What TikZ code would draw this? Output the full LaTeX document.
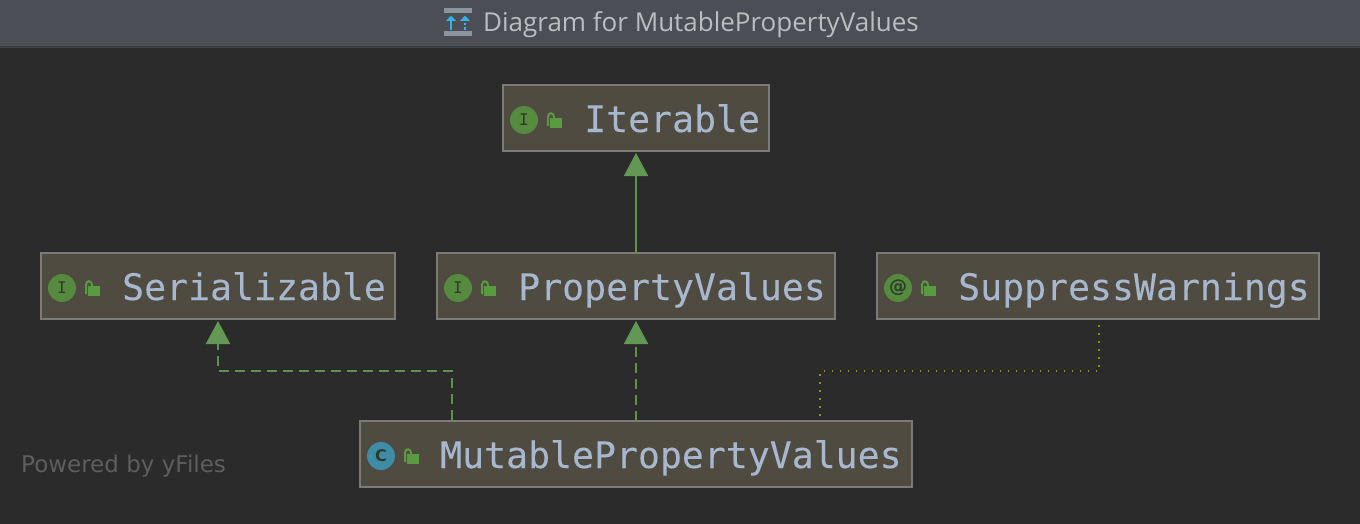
\documentclass[tikz,border=0pt]{standalone}
\usepackage{fontspec}
\setmainfont{Open Sans}
\newfontfamily\monof[FakeBold=0.12]{DejaVu Sans Mono}
\newfontfamily\iconf{DejaVu Sans Mono}
\newfontfamily\labf{DejaVu Sans}
\usetikzlibrary{arrows.meta,positioning,calc}
\definecolor{bgc}{HTML}{2B2B2B}
\definecolor{barc}{HTML}{4B4E55}
\definecolor{barl}{HTML}{3C3F43}
\definecolor{boxf}{HTML}{4F4B41}
\definecolor{boxd}{HTML}{7B7B78}
\definecolor{txtc}{HTML}{A7B7CE}
\definecolor{grn}{HTML}{5A9545}
\definecolor{grnt}{HTML}{629755}
\definecolor{lockc}{HTML}{5A9A40}
\definecolor{icg}{HTML}{568A3E}
\definecolor{icb}{HTML}{3F8CA6}
\definecolor{icd}{HTML}{2E3A2C}
\definecolor{dotc}{HTML}{909000}
\definecolor{ttl}{HTML}{BBBDBF}
\definecolor{pow}{HTML}{5E5E5E}
\definecolor{tib}{HTML}{8C959E}
\definecolor{tia}{HTML}{32B4E6}
\tikzset{
  x=1pt,y=-1pt,
  umlbox/.style={draw=boxd,line width=2pt,fill=boxf,minimum height=66pt,inner sep=0pt,outer sep=0pt},
  umltext/.style={anchor=base west,inner sep=0pt,text=txtc,font=\monof\fontsize{36.5pt}{36.5pt}\selectfont},
  badge/.style={circle,fill=#1,minimum size=28pt,inner sep=0pt,text=icd},
  realize/.style={draw=grn,line width=2pt,dash pattern=on 10pt off 6pt,shorten >=2pt,
    -{Triangle[width=24pt,length=23pt,fill=grnt,color=grnt]}},
  extend/.style={draw=grn,line width=2pt,shorten >=2pt,
    -{Triangle[width=24pt,length=23pt,fill=grnt,color=grnt]}},
  annot/.style={draw=dotc,line width=1.5pt,dash pattern=on 1.5pt off 6.5pt},
  lockbody/.style={fill=lockc,draw=none},
  lockbar/.style={draw=lockc,line width=2pt}
}
\newcommand{\lockat}[2]{%
  \draw[lockbar] (#1+24,#2+6) -- (#1+24,#2-3) .. controls (#1+24,#2-8) and (#1+30,#2-8) .. (#1+30,#2-3) -- (#1+30,#2-1);
  \fill[lockbody] (#1+26,#2-2) rectangle (#1+38,#2+8);
}
\begin{document}
\begin{tikzpicture}
\useasboundingbox (0,0) rectangle (1360,524);
\fill[bgc] (0,0) rectangle (1360,524);
\fill[barc] (0,0) rectangle (1360,46);
\fill[barl] (0,46) rectangle (1360,48);
% title icon
\fill[tib] (444,8) rectangle (472,13);
\fill[tib] (444,31) rectangle (472,36);
\draw[tia,line width=1.6pt] (451,30) -- (451,20);
\fill[tia] (446,21) -- (451,15.5) -- (456,21) -- cycle;
\draw[tia,line width=1.6pt,dash pattern=on 2.5pt off 2pt] (465,30) -- (465,20);
\fill[tia] (460,21) -- (465,15.5) -- (470,21) -- cycle;
\node[anchor=base west,inner sep=0pt,text=ttl,font=\fontsize{26pt}{26pt}\selectfont] (title) at (483,32) {Diagram for MutablePropertyValues};
% boxes
\node[umlbox,minimum width=266pt] (it) at (636,118) {};
\node[umlbox,minimum width=354pt] (ser) at (218,286) {};
\node[umlbox,minimum width=398pt] (pv) at (636,286) {};
\node[umlbox,minimum width=442pt] (sw) at (1098,286) {};
\node[umlbox,minimum width=552pt] (mpv) at (636,454) {};
% labels
\node[umltext] (itl) at (584,132) {Iterable};
\node[umltext] (serl) at (122,300) {Serializable};
\node[umltext] (pvl) at (518,300) {PropertyValues};
\node[umltext] (swl) at (958,300) {SuppressWarnings};
\node[umltext] (mpvl) at (440,468) {MutablePropertyValues};
% badges
\node[badge=icg,font=\iconf\fontsize{16pt}{16pt}\selectfont] (iti) at (524,120) {I};
\node[badge=icg,font=\iconf\fontsize{16pt}{16pt}\selectfont] (seri) at (62,288) {I};
\node[badge=icg,font=\iconf\fontsize{16pt}{16pt}\selectfont] (pvi) at (458,288) {I};
\node[badge=icg,font=\labf\bfseries\fontsize{18pt}{18pt}\selectfont] (swi) at (898,288) {@};
\node[badge=icb,font=\labf\bfseries\fontsize{16pt}{16pt}\selectfont] (mpvi) at (381,456) {C};
\lockat{524}{120}
\lockat{62}{288}
\lockat{458}{288}
\lockat{898}{288}
\lockat{381}{456}
% connectors
\coordinate (a1) at (452,420);
\coordinate (a2) at (452,371);
\coordinate (a3) at (218,371);
\coordinate (d1) at (820,416);
\coordinate (d2) at (820,371);
\coordinate (d3) at (1099,371);
\coordinate (d4) at (1099,325);
\draw[extend] (pv.north) -- (it.south);
\draw[realize] (mpv.north) -- (pv.south);
\draw[realize] (a1) -- (a2) -- (a3) -- (ser.south);
\draw[annot] (d4) -- (d3) -- (d2) -- (d1);
\node[anchor=base west,inner sep=0pt,text=pow,font=\labf\fontsize{23pt}{23pt}\selectfont] (powered) at (21,472) {Powered by yFiles};
\end{tikzpicture}
\end{document}
